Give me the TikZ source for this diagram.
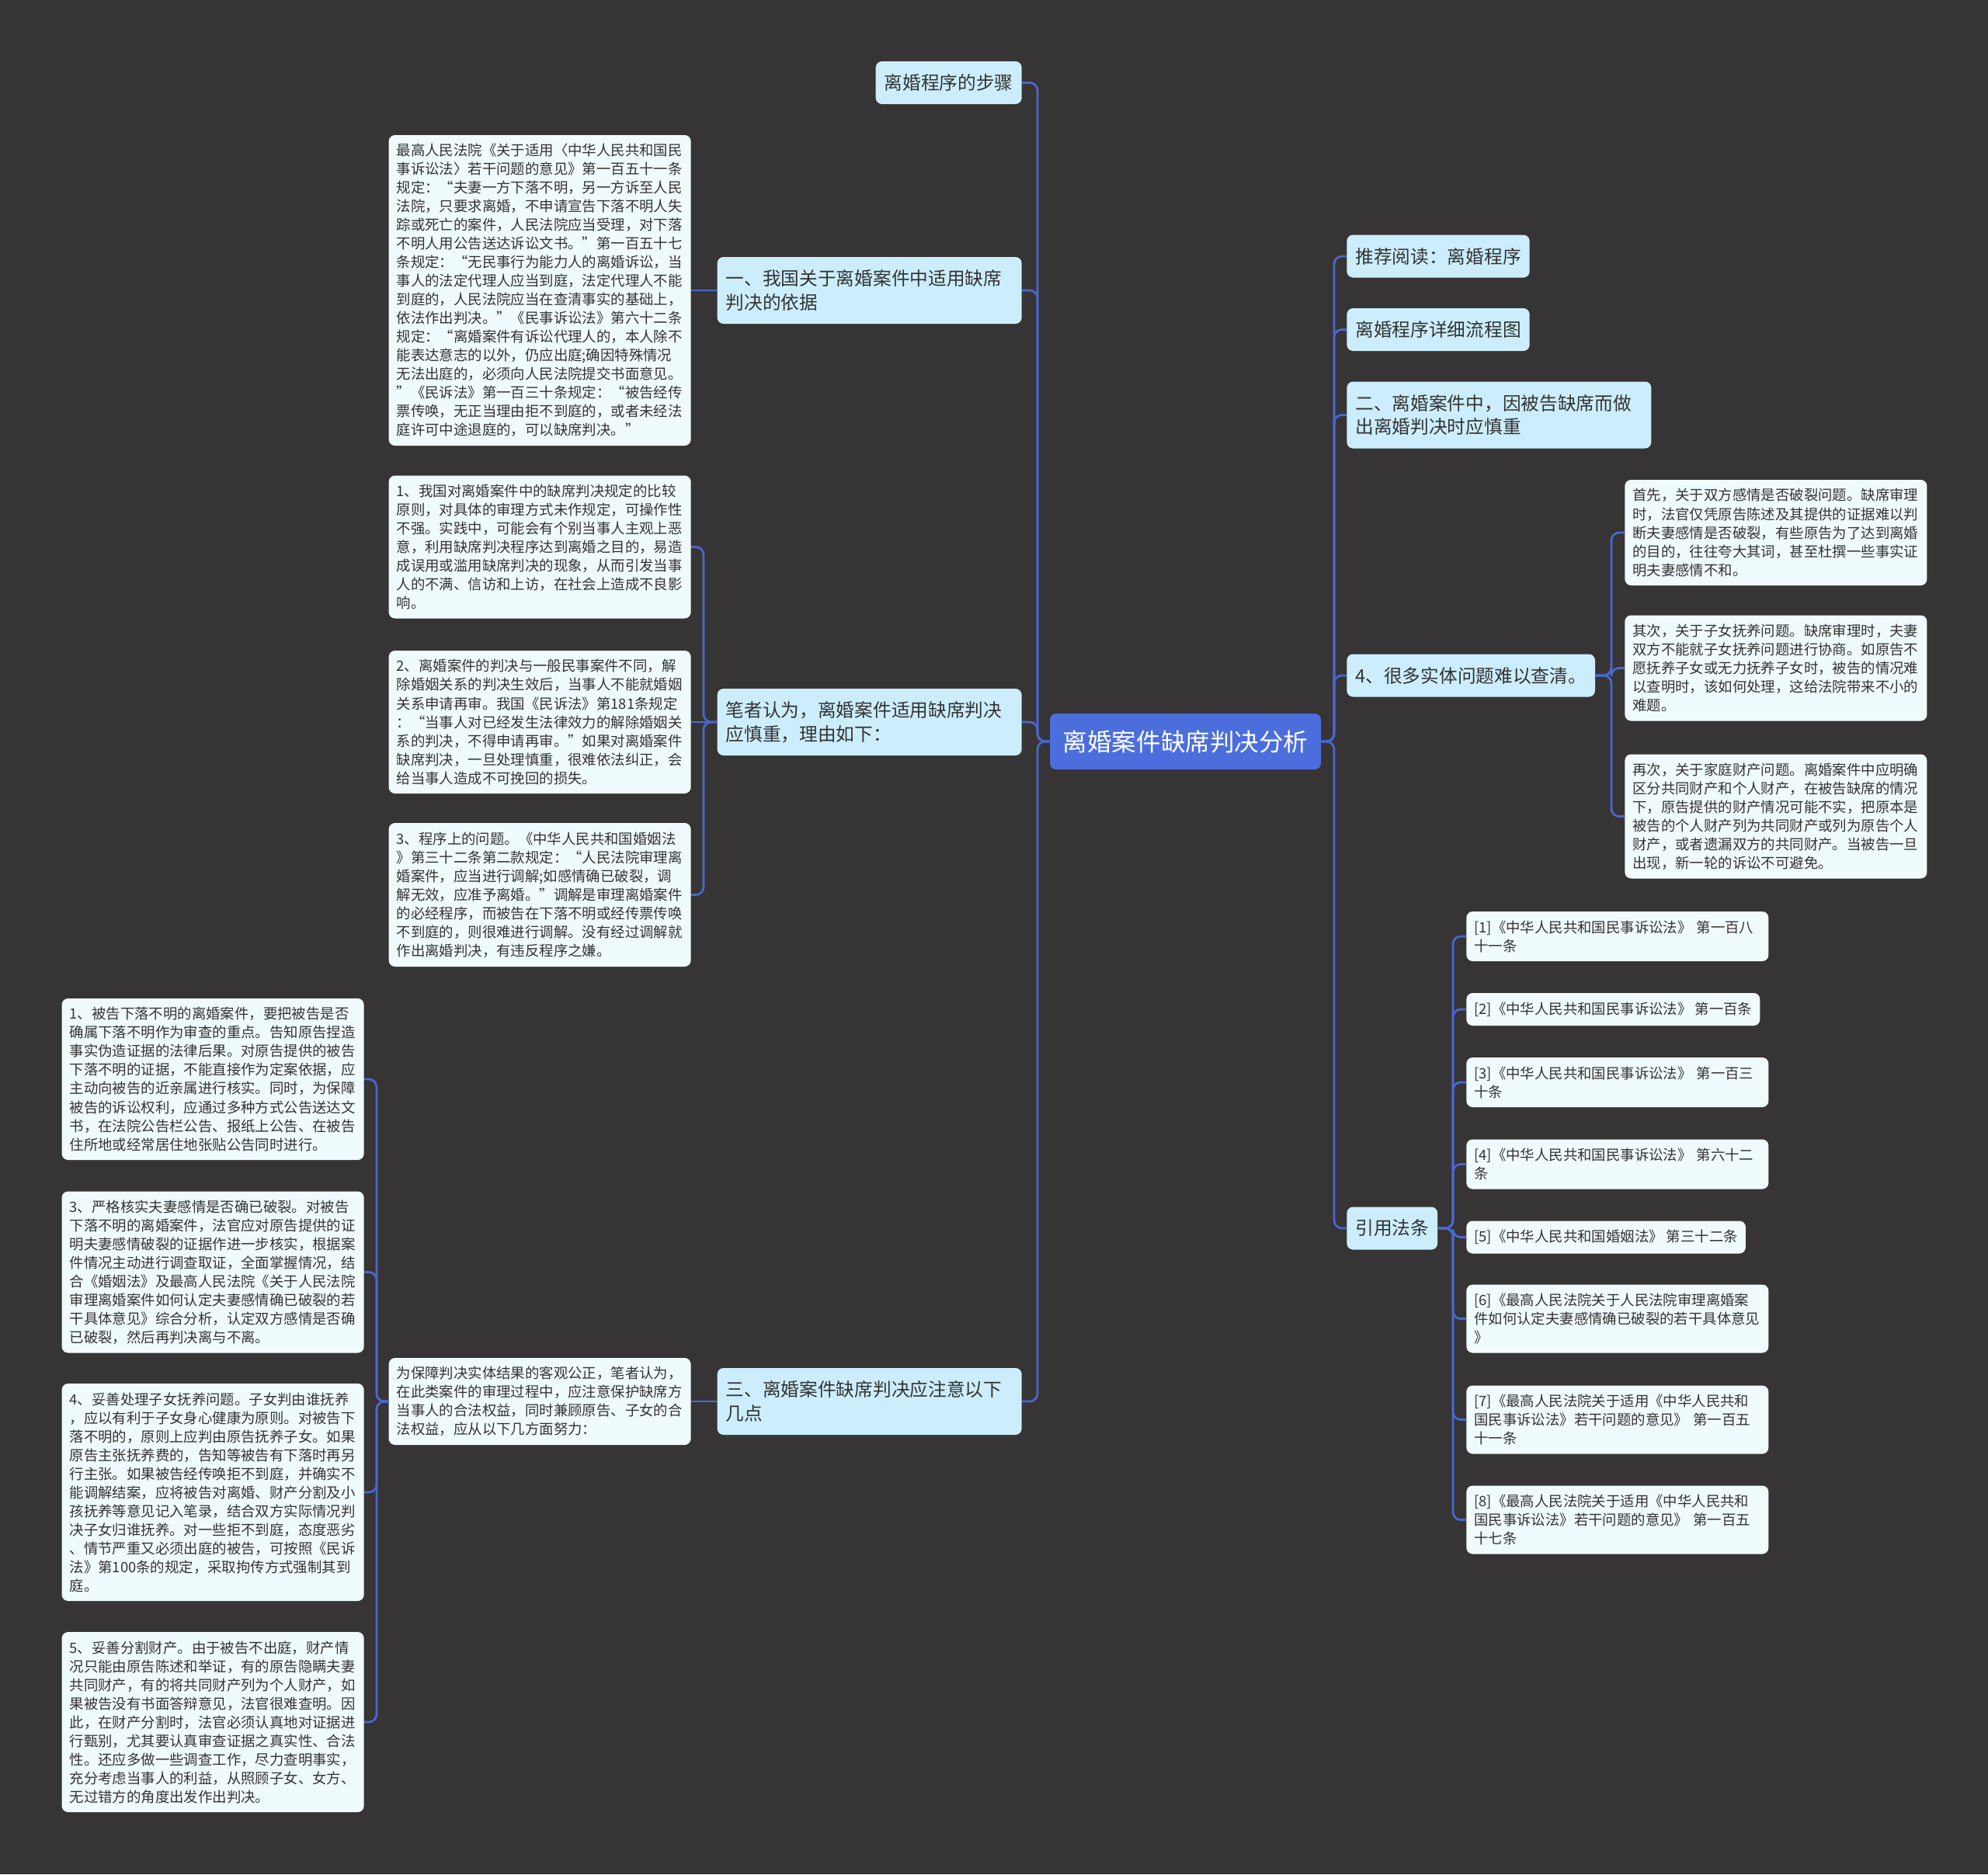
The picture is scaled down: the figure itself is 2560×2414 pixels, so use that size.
\documentclass[tikz,border=0pt]{standalone}
\usepackage{fontspec}
\setmainfont{Noto Sans CJK SC}
\usetikzlibrary{calc}
\definecolor{bgcol}{HTML}{363435}
\definecolor{rootcol}{HTML}{4C6EDD}
\definecolor{branchcol}{HTML}{CCEEFC}
\definecolor{leafcol}{HTML}{F0FBFE}
\definecolor{linkcol}{HTML}{4A67CF}
\definecolor{inkcol}{HTML}{333333}
\newcommand{\leaffont}{\fontsize{10.47pt}{13.66pt}\selectfont}
\newcommand{\branchfont}{\fontsize{13.49pt}{17.4pt}\selectfont}
\newcommand{\rootfont}{\fontsize{17.93pt}{21pt}\selectfont}

\begin{document}
\begin{tikzpicture}[x=0.2mm, y=-0.2mm,
  root/.style={fill=rootcol, text=white, rounded corners=1.6mm, font=\rootfont, minimum width=69.8mm, minimum height=14.4mm, inner sep=2mm},
  branch/.style={fill=branchcol, text=inkcol, rounded corners=1.6mm, align=left, font=\branchfont, inner xsep=2.2mm, inner ysep=2mm, minimum height=11mm},
  twoline/.style={text width=74mm, minimum height=17.2mm},
  leaf/.style={fill=leafcol, text=inkcol, rounded corners=1.6mm, align=left, font=\leaffont, inner xsep=2mm, inner ysep=2mm},
  wide/.style={text width=73.8mm},
  link/.style={draw=linkcol, line width=0.55mm, rounded corners=2mm}]
\fill[bgcol] (0,0) rectangle (2560,2414);
\node[root] (root) at (1526.5,955) {离婚案件缺席判决分析};
\node[branch, anchor=east] (steps) at (1316,106.5) {离婚程序的步骤};
\node[branch, twoline, anchor=east] (basis) at (1316,374) {一、我国关于离婚案件中适用缺席\\判决的依据};
\node[branch, twoline, anchor=east] (caution) at (1316,930) {笔者认为，离婚案件适用缺席判决\\应慎重，理由如下：};
\node[branch, twoline, anchor=east] (points) at (1316,1805) {三、离婚案件缺席判决应注意以下\\几点};
\node[branch, anchor=west] (read) at (1734,330) {推荐阅读：离婚程序};
\node[branch, anchor=west] (flow) at (1734,424.5) {离婚程序详细流程图};
\node[branch, twoline, anchor=west] (care) at (1734,534.5) {二、离婚案件中，因被告缺席而做\\出离婚判决时应慎重};
\node[branch, anchor=west] (facts) at (1734,870) {4、很多实体问题难以查清。};
\node[branch, anchor=west] (laws) at (1734,1582) {引用法条};
\node[leaf, wide, anchor=east, minimum height=80mm] (law) at (890,374) {最高人民法院《关于适用〈中华人民共和国民\\事诉讼法〉若干问题的意见》第一百五十一条\\规定：“夫妻一方下落不明，另一方诉至人民\\法院，只要求离婚，不申请宣告下落不明人失\\踪或死亡的案件，人民法院应当受理，对下落\\不明人用公告送达诉讼文书。”第一百五十七\\条规定：“无民事行为能力人的离婚诉讼，当\\事人的法定代理人应当到庭，法定代理人不能\\到庭的，人民法院应当在查清事实的基础上，\\依法作出判决。”《民事诉讼法》第六十二条\\规定：“离婚案件有诉讼代理人的，本人除不\\能表达意志的以外，仍应出庭;确因特殊情况\\无法出庭的，必须向人民法院提交书面意见。\\”《民诉法》第一百三十条规定：“被告经传\\票传唤，无正当理由拒不到庭的，或者未经法\\庭许可中途退庭的，可以缺席判决。”};
\node[leaf, wide, anchor=east, minimum height=36.8mm] (why1) at (890,704.5) {1、我国对离婚案件中的缺席判决规定的比较\\原则，对具体的审理方式未作规定，可操作性\\不强。实践中，可能会有个别当事人主观上恶\\意，利用缺席判决程序达到离婚之目的，易造\\成误用或滥用缺席判决的现象，从而引发当事\\人的不满、信访和上访，在社会上造成不良影\\响。};
\node[leaf, wide, anchor=east, minimum height=36.8mm] (why2) at (890,930) {2、离婚案件的判决与一般民事案件不同，解\\除婚姻关系的判决生效后，当事人不能就婚姻\\关系申请再审。我国《民诉法》第181条规定\\：“当事人对已经发生法律效力的解除婚姻关\\系的判决，不得申请再审。”如果对离婚案件\\缺席判决，一旦处理慎重，很难依法纠正，会\\给当事人造成不可挽回的损失。};
\node[leaf, wide, anchor=east, minimum height=37mm] (why3) at (890,1152.5) {3、程序上的问题。《中华人民共和国婚姻法\\》第三十二条第二款规定：“人民法院审理离\\婚案件，应当进行调解;如感情确已破裂，调\\解无效，应准予离婚。”调解是审理离婚案件\\的必经程序，而被告在下落不明或经传票传唤\\不到庭的，则很难进行调解。没有经过调解就\\作出离婚判决，有违反程序之嫌。};
\node[leaf, wide, anchor=east, minimum height=22.4mm] (aim) at (890,1805) {为保障判决实体结果的客观公正，笔者认为，\\在此类案件的审理过程中，应注意保护缺席方\\当事人的合法权益，同时兼顾原告、子女的合\\法权益，应从以下几方面努力：};
\node[leaf, wide, anchor=east, minimum height=41.6mm] (pt1) at (469,1390) {1、被告下落不明的离婚案件，要把被告是否\\确属下落不明作为审查的重点。告知原告捏造\\事实伪造证据的法律后果。对原告提供的被告\\下落不明的证据，不能直接作为定案依据，应\\主动向被告的近亲属进行核实。同时，为保障\\被告的诉讼权利，应通过多种方式公告送达文\\书，在法院公告栏公告、报纸上公告、在被告\\住所地或经常居住地张贴公告同时进行。};
\node[leaf, wide, anchor=east, minimum height=41.6mm] (pt3) at (469,1638.5) {3、严格核实夫妻感情是否确已破裂。对被告\\下落不明的离婚案件，法官应对原告提供的证\\明夫妻感情破裂的证据作进一步核实，根据案\\件情况主动进行调查取证，全面掌握情况，结\\合《婚姻法》及最高人民法院《关于人民法院\\审理离婚案件如何认定夫妻感情确已破裂的若\\干具体意见》综合分析，认定双方感情是否确\\已破裂，然后再判决离与不离。};
\node[leaf, wide, anchor=east, minimum height=56mm] (pt4) at (469,1922) {4、妥善处理子女抚养问题。子女判由谁抚养\\，应以有利于子女身心健康为原则。对被告下\\落不明的，原则上应判由原告抚养子女。如果\\原告主张抚养费的，告知等被告有下落时再另\\行主张。如果被告经传唤拒不到庭，并确实不\\能调解结案，应将被告对离婚、财产分割及小\\孩抚养等意见记入笔录，结合双方实际情况判\\决子女归谁抚养。对一些拒不到庭，态度恶劣\\、情节严重又必须出庭的被告，可按照《民诉\\法》第100条的规定，采取拘传方式强制其到\\庭。};
\node[leaf, wide, anchor=east, minimum height=46.4mm] (pt5) at (469,2218) {5、妥善分割财产。由于被告不出庭，财产情\\况只能由原告陈述和举证，有的原告隐瞒夫妻\\共同财产，有的将共同财产列为个人财产，如\\果被告没有书面答辩意见，法官很难查明。因\\此，在财产分割时，法官必须认真地对证据进\\行甄别，尤其要认真审查证据之真实性、合法\\性。还应多做一些调查工作，尽力查明事实，\\充分考虑当事人的利益，从照顾子女、女方、\\无过错方的角度出发作出判决。};
\node[leaf, wide, anchor=west, minimum height=27.2mm] (fact1) at (2092,686) {首先，关于双方感情是否破裂问题。缺席审理\\时，法官仅凭原告陈述及其提供的证据难以判\\断夫妻感情是否破裂，有些原告为了达到离婚\\的目的，往往夸大其词，甚至杜撰一些事实证\\明夫妻感情不和。};
\node[leaf, wide, anchor=west, minimum height=27.2mm] (fact2) at (2092,860.5) {其次，关于子女抚养问题。缺席审理时，夫妻\\双方不能就子女抚养问题进行协商。如原告不\\愿抚养子女或无力抚养子女时，被告的情况难\\以查明时，该如何处理，这给法院带来不小的\\难题。};
\node[leaf, wide, anchor=west, minimum height=32mm] (fact3) at (2092,1051.5) {再次，关于家庭财产问题。离婚案件中应明确\\区分共同财产和个人财产，在被告缺席的情况\\下，原告提供的财产情况可能不实，把原本是\\被告的个人财产列为共同财产或列为原告个人\\财产，或者遗漏双方的共同财产。当被告一旦\\出现，新一轮的诉讼不可避免。};
\node[leaf, wide, anchor=west, minimum height=12.8mm] (ref1) at (1888,1206) {[1]《中华人民共和国民事诉讼法》 第一百八\\十一条};
\node[leaf, anchor=west, minimum height=8.4mm] (ref2) at (1888,1300) {[2]《中华人民共和国民事诉讼法》 第一百条};
\node[leaf, wide, anchor=west, minimum height=12.8mm] (ref3) at (1888,1394) {[3]《中华人民共和国民事诉讼法》 第一百三\\十条};
\node[leaf, wide, anchor=west, minimum height=12.8mm] (ref4) at (1888,1499.5) {[4]《中华人民共和国民事诉讼法》 第六十二\\条};
\node[leaf, anchor=west, minimum height=8.4mm] (ref5) at (1888,1593.5) {[5]《中华人民共和国婚姻法》 第三十二条};
\node[leaf, wide, anchor=west, minimum height=17.6mm] (ref6) at (1888,1698.5) {[6]《最高人民法院关于人民法院审理离婚案\\件如何认定夫妻感情确已破裂的若干具体意见\\》};
\node[leaf, wide, anchor=west, minimum height=17.6mm] (ref7) at (1888,1828.5) {[7]《最高人民法院关于适用《中华人民共和\\国民事诉讼法》若干问题的意见》 第一百五\\十一条};
\node[leaf, wide, anchor=west, minimum height=17.6mm] (ref8) at (1888,1957.5) {[8]《最高人民法院关于适用《中华人民共和\\国民事诉讼法》若干问题的意见》 第一百五\\十七条};
\coordinate (lt) at (1336,955);
\coordinate (rt) at (1718,955);
\coordinate (jcau) at (906,930);
\coordinate (jaim) at (485,1805);
\coordinate (jfac) at (2075,870);
\coordinate (jlaw) at (1871,1582);
\draw[link] (root.west) -- (lt) |- (steps.east);
\draw[link] (root.west) -- (lt) |- (basis.east);
\draw[link] (root.west) -- (lt) |- (caution.east);
\draw[link] (root.west) -- (lt) |- (points.east);
\draw[link] (root.east) -- (rt) |- (read.west);
\draw[link] (root.east) -- (rt) |- (flow.west);
\draw[link] (root.east) -- (rt) |- (care.west);
\draw[link] (root.east) -- (rt) |- (facts.west);
\draw[link] (root.east) -- (rt) |- (laws.west);
\draw[link] (basis.west) -- (law.east);
\draw[link] (caution.west) -- (jcau) |- (why1.east);
\draw[link] (caution.west) -- (why2.east);
\draw[link] (caution.west) -- (jcau) |- (why3.east);
\draw[link] (points.west) -- (aim.east);
\draw[link] (aim.west) -- (jaim) |- (pt1.east);
\draw[link] (aim.west) -- (jaim) |- (pt3.east);
\draw[link] (aim.west) -- (jaim) |- (pt4.east);
\draw[link] (aim.west) -- (jaim) |- (pt5.east);
\draw[link] (facts.east) -- (jfac) |- (fact1.west);
\draw[link] (facts.east) -- (jfac) |- (fact2.west);
\draw[link] (facts.east) -- (jfac) |- (fact3.west);
\draw[link] (laws.east) -- (jlaw) |- (ref1.west);
\draw[link] (laws.east) -- (jlaw) |- (ref2.west);
\draw[link] (laws.east) -- (jlaw) |- (ref3.west);
\draw[link] (laws.east) -- (jlaw) |- (ref4.west);
\draw[link] (laws.east) -- (jlaw) |- (ref5.west);
\draw[link] (laws.east) -- (jlaw) |- (ref6.west);
\draw[link] (laws.east) -- (jlaw) |- (ref7.west);
\draw[link] (laws.east) -- (jlaw) |- (ref8.west);
\end{tikzpicture}
\end{document}
